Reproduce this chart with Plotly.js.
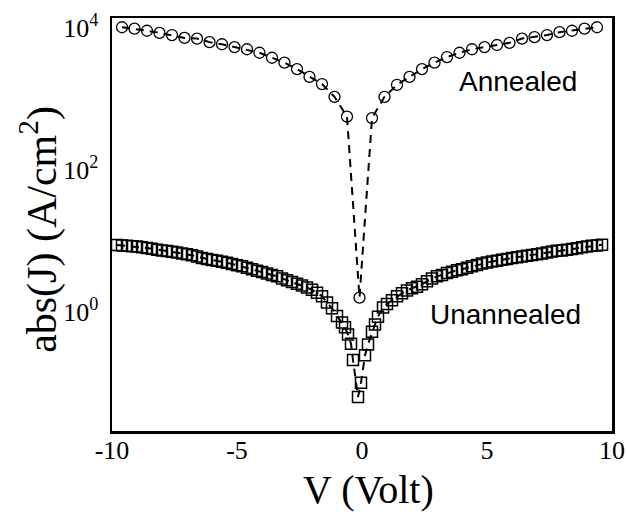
<!DOCTYPE html>
<html>
<head>
<meta charset="utf-8">
<script src="https://cdn.plot.ly/plotly-3.0.1.min.js"></script>
<style>html,body{margin:0;padding:0;background:#fff;}#chart{width:627px;height:512px;}</style>
</head>
<body>
<div id="chart"></div>
<script>
// Annealed (circles): voltage and |J| (A/cm^2)
const annealedV = [-9.6,-9.1,-8.6,-8.1,-7.6,-7.1,-6.6,-6.1,-5.6,-5.1,-4.6,-4.1,-3.6,-3.1,-2.6,-2.1,-1.6,-1.1,-0.6,
  -0.1,
  0.4,0.9,1.4,1.9,2.4,2.9,3.4,3.9,4.4,4.9,5.4,5.9,6.4,6.9,7.4,7.9,8.4,8.9,9.4];
const annealedJ = [10230,9770,9120,8510,7940,7240,7080,6310,5890,5370,5010,4470,3800,3240,2630,2040,1620,1070,562,
  1.58,
  537,1070,1580,2040,2630,3240,3890,4470,5010,5370,5750,6170,7080,7410,7940,8710,9120,9770,10230];

// Unannealed (squares)
const unannealedV = [-9.8,-9.6,-9.4,-9.2,-9.0,-8.8,-8.6,-8.4,-8.2,-8.0,-7.8,-7.6,-7.4,-7.2,-7.0,-6.8,-6.6,-6.4,-6.2,-6.0,
  -5.8,-5.6,-5.4,-5.2,-5.0,-4.8,-4.6,-4.4,-4.2,-4.0,-3.8,-3.6,-3.4,-3.2,-3.0,-2.8,-2.6,-2.4,-2.2,-2.0,
  -1.8,-1.6,-1.4,-1.2,-1.0,-0.8,-0.68,-0.56,-0.44,-0.36,-0.16,-0.04,
  0.12,0.24,0.4,0.52,0.64,0.84,1.0,1.2,1.4,1.6,1.8,2.0,2.2,2.4,2.6,2.8,3.0,3.2,3.4,3.6,3.8,4.0,
  4.2,4.4,4.6,4.8,5.0,5.2,5.4,5.6,5.8,6.0,6.2,6.4,6.6,6.8,7.0,7.2,7.4,7.6,7.8,8.0,8.2,8.4,8.6,8.8,9.0,9.2,9.4,9.6];
const unannealedJ = [8.71,8.61,8.51,8.41,8.32,8.13,7.94,7.76,7.50,7.33,7.16,7.00,6.84,6.61,6.46,6.24,6.03,5.75,5.56,5.37,
  5.25,5.07,4.90,4.73,4.52,4.37,4.17,3.98,3.80,3.63,3.47,3.31,3.16,2.95,2.79,2.63,2.48,2.34,2.19,2.04,
  1.86,1.66,1.35,1.12,0.871,0.708,0.603,0.479,0.355,0.209,0.0631,0.100,
  0.245,0.347,0.525,0.661,0.851,1.15,1.29,1.45,1.66,1.82,2.00,2.14,2.26,2.45,2.69,2.95,3.16,3.31,3.51,3.67,3.85,3.98,
  4.17,4.37,4.57,4.79,4.95,5.13,5.25,5.43,5.56,5.75,5.89,6.03,6.17,6.31,6.46,6.61,6.84,7.08,7.24,7.33,7.50,7.67,7.85,8.13,8.32,8.51,8.61,8.81];

const xTickVals = [-10,-5,0,5,10];
const xTickText = ['-10','-5','0','5','10'];
const yTickVals = [1,100,10000];
const yTickText = ['10<sup>0</sup>','10<sup>2</sup>','10<sup>4</sup>'];

const serif = 'Liberation Serif, Times New Roman, serif';
const sans = 'Liberation Sans, Arial, sans-serif';

const traces = [
  {
    x: unannealedV, y: unannealedJ, name: 'Unannealed', type: 'scatter', mode: 'lines+markers',
    line: {color: '#000', width: 2, dash: '8px,6px'},
    marker: {symbol: 'square-open', size: 11, color: '#000', line: {width: 1.5, color: '#000'}}
  },
  {
    x: annealedV, y: annealedJ, name: 'Annealed', type: 'scatter', mode: 'lines+markers',
    line: {color: '#000', width: 2, dash: '8px,6px'},
    marker: {symbol: 'circle-open', size: 11, color: '#000', line: {width: 1.3, color: '#000'}}
  }
];

const layout = {
  width: 627, height: 512,
  margin: {l: 112, r: 15, t: 18, b: 81},
  paper_bgcolor: '#fff', plot_bgcolor: '#fff',
  showlegend: false,
  xaxis: {
    range: [-10, 10], showgrid: false, zeroline: false,
    showline: true, mirror: true, linecolor: '#000', linewidth: 2.5,
    ticks: '', tickvals: xTickVals, ticktext: xTickText,
    tickfont: {family: serif, size: 26, color: '#000'},
    ticklabelstandoff: -6
  },
  yaxis: {
    type: 'log', range: [-1.68, 4.14], showgrid: false, zeroline: false,
    showline: true, mirror: true, linecolor: '#000', linewidth: 2.5,
    ticks: '', tickvals: yTickVals, ticktext: yTickText,
    tickfont: {family: serif, size: 26, color: '#000'},
    ticklabelstandoff: 6
  },
  annotations: [
    {text: 'Annealed', xref: 'paper', yref: 'paper', x: 0.812, y: 0.847, showarrow: false,
     xanchor: 'center', yanchor: 'middle', font: {family: sans, size: 28, color: '#000'}},
    {text: 'Unannealed', xref: 'paper', yref: 'paper', x: 0.786, y: 0.283, showarrow: false,
     xanchor: 'center', yanchor: 'middle', font: {family: sans, size: 28, color: '#000'}},
    {text: 'V (Volt)', xref: 'paper', yref: 'paper', x: 0.512, y: -0.142, showarrow: false,
     xanchor: 'center', yanchor: 'middle', font: {family: serif, size: 40, color: '#000'}},
    {text: 'abs(J) (A/cm<sup>2</sup>)', xref: 'paper', yref: 'paper', x: -0.146, y: 0.487, showarrow: false,
     textangle: -90, xanchor: 'center', yanchor: 'middle', font: {family: serif, size: 42, color: '#000'}}
  ]
};

Plotly.newPlot('chart', traces, layout, {displayModeBar: false, staticPlot: true});
</script>
</body>
</html>
